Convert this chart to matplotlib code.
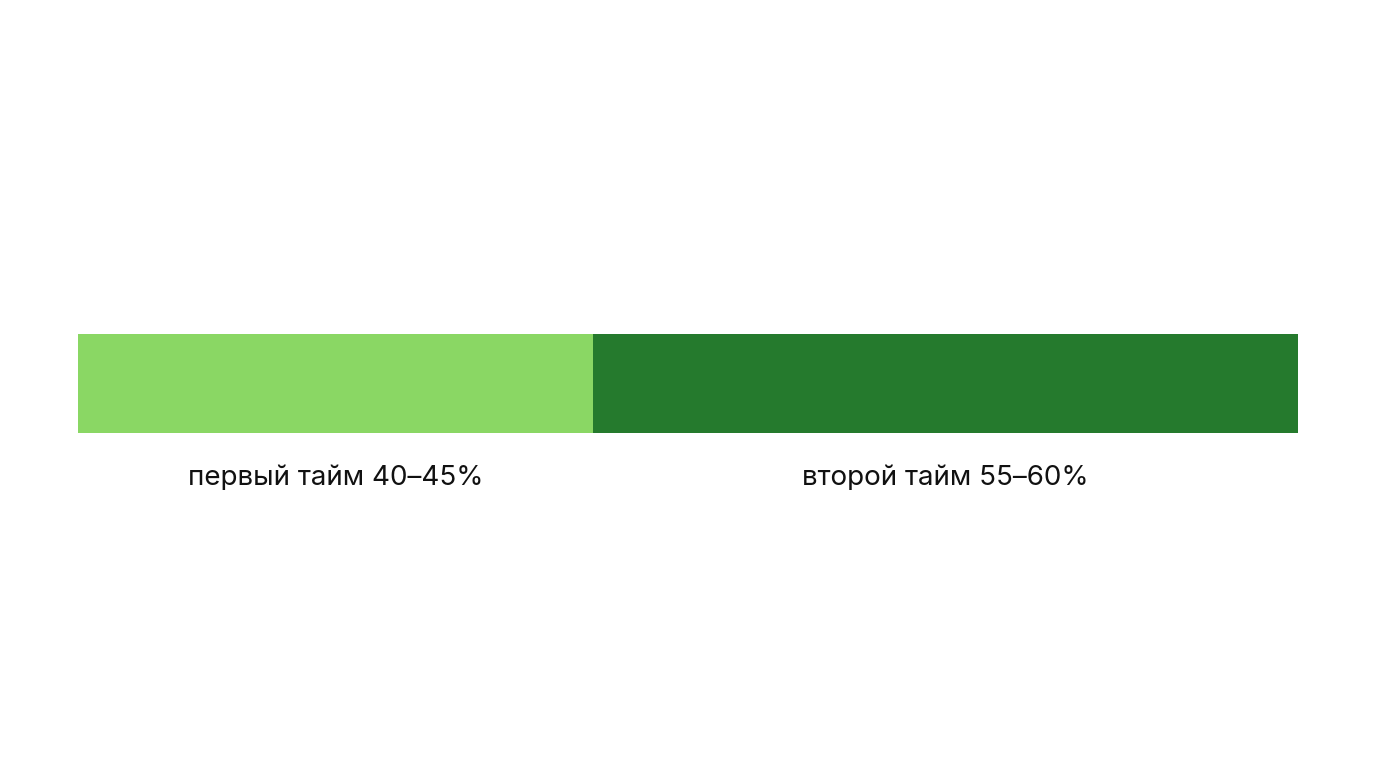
import matplotlib
matplotlib.use("Agg")
import matplotlib.pyplot as plt

LABELS = ["первый тайм 40–45%", "второй тайм 55–60%"]
SHARES = [42.2, 57.8]
COLORS = ["#8AD764", "#257A2D"]

fig = plt.figure(figsize=(13.76, 7.68), dpi=100)
ax = fig.add_axes([78 / 1376, (768 - 433) / 768, 1220 / 1376, 99 / 768])

left = 0
for lab, v, c in zip(LABELS, SHARES, COLORS):
    ax.barh(0, v, left=left, height=1, color=c)
    ax.text(left + v / 2, -0.95, lab, ha="center", va="center",
            fontsize=20, family=["Inter", "DejaVu Sans"], color="#111111")
    left += v

ax.set_xlim(0, sum(SHARES))
ax.set_ylim(-0.5, 0.5)
ax.axis("off")
fig.savefig("out.png", dpi=100)
